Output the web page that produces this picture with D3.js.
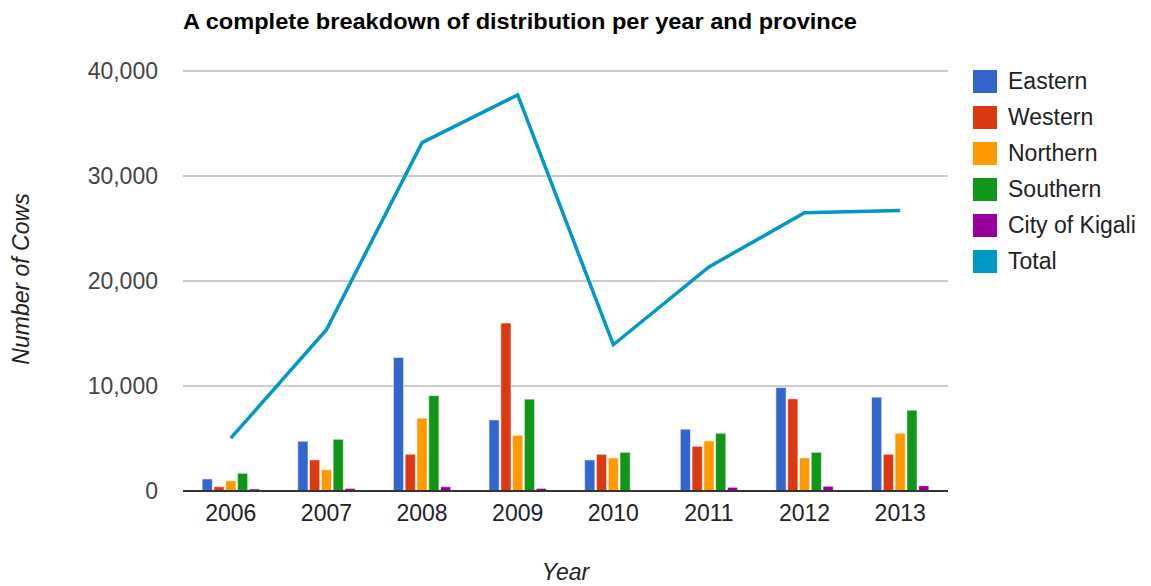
<!DOCTYPE html>
<html>
<head>
<meta charset="utf-8">
<script src="https://cdn.jsdelivr.net/npm/d3@7"></script>
<style>
  body { margin: 0; background: #fff; }
  text { font-family: "Liberation Sans", Arial, sans-serif; }
</style>
</head>
<body>
<div id="chart"></div>
<script>
// data
var years = ["2006", "2007", "2008", "2009", "2010", "2011", "2012", "2013"];
var provinces = ["Eastern", "Western", "Northern", "Southern", "City of Kigali"];
var eastern  = [1150, 4740, 12720, 6770, 2960, 5890, 9860, 8940];
var western  = [410, 2960, 3500, 16000, 3500, 4260, 8780, 3500];
var northern = [980, 2030, 6940, 5310, 3150, 4770, 3150, 5500];
var southern = [1690, 4930, 9090, 8750, 3690, 5500, 3690, 7700];
var kigali   = [200, 250, 410, 250, 0, 350, 450, 500];
var total    = [5030, 15360, 33180, 37720, 13930, 21340, 26500, 26720];
var yTicks = [0, 10000, 20000, 30000, 40000];
var colors = ["#3366cc", "#dc3912", "#ff9900", "#109618", "#990099"];
var totalColor = "#0099c6";

var W = 1151, H = 586;
var margin = {top: 71, right: 203, bottom: 95, left: 183};
var width  = W - margin.left - margin.right;
var height = H - margin.top  - margin.bottom;
var fs = 23;

var series = [eastern, western, northern, southern, kigali];

var svg = d3.select("#chart").append("svg")
    .attr("width", W)
    .attr("height", H);

// Title
svg.append("text")
    .attr("x", margin.left)
    .attr("y", 29)
    .attr("font-size", 22)
    .attr("font-weight", "bold")
    .attr("fill", "#000")
    .attr("textLength", 674)
    .attr("lengthAdjust", "spacingAndGlyphs")
    .text("A complete breakdown of distribution per year and province");

var x = d3.scaleBand().domain(years).range([0, width]).paddingInner(0).paddingOuter(0);
var xInner = d3.scaleBand().domain(d3.range(provinces.length))
    .range([0, x.bandwidth() * 0.6]).paddingInner(0.13);
var y = d3.scaleLinear().domain([0, 40000]).range([height, 0]);

var g = svg.append("g")
    .attr("transform", "translate(" + margin.left + "," + margin.top + ")");

// gridlines
g.selectAll(".grid")
    .data(yTicks.slice(1))
    .enter().append("line")
    .attr("x1", 0)
    .attr("x2", width)
    .attr("y1", function(d) { return y(d); })
    .attr("y2", function(d) { return y(d); })
    .attr("stroke", "#cccccc")
    .attr("stroke-width", 2);

// Y axis labels
var yAxis = g.append("g")
    .attr("class", "axis axis-y")
    .call(d3.axisLeft(y).tickValues(yTicks).tickSize(0).tickPadding(25)
      .tickFormat(d3.format(",")));
yAxis.select(".domain").remove();
yAxis.selectAll("text")
    .attr("font-size", fs)
    .attr("fill", "#444")
    .attr("font-family", "Liberation Sans, Arial, sans-serif");

// X axis labels
var xAxis = g.append("g")
    .attr("class", "axis axis-x")
    .attr("transform", "translate(0," + height + ")")
    .call(d3.axisBottom(x).tickSize(0).tickPadding(14));
xAxis.select(".domain").remove();
xAxis.selectAll("text")
    .attr("font-size", fs)
    .attr("fill", "#222")
    .attr("font-family", "Liberation Sans, Arial, sans-serif");

// bars
var groupOffset = (x.bandwidth() - x.bandwidth() * 0.6) / 2;
series.forEach(function(vals, si) {
  g.selectAll(".bar-" + si)
      .data(vals)
      .enter().append("rect")
      .attr("x", function(d, i) { return x(years[i]) + groupOffset + xInner(si); })
      .attr("y", function(d) { return y(d); })
      .attr("width", xInner.bandwidth())
      .attr("height", function(d) { return height - y(d); })
      .attr("fill", colors[si])
      .attr("stroke", "#fff")
      .attr("stroke-opacity", 0.6)
      .attr("stroke-width", 1);
});

// baseline
g.append("line")
    .attr("x1", 0)
    .attr("x2", width)
    .attr("y1", y(0))
    .attr("y2", y(0))
    .attr("stroke", "#333")
    .attr("stroke-width", 2);

// total line
var line = d3.line()
    .x(function(d, i) { return x(years[i]) + x.bandwidth() / 2; })
    .y(function(d) { return y(d); });
g.append("path")
    .datum(total)
    .attr("d", line)
    .attr("fill", "none")
    .attr("stroke", totalColor)
    .attr("stroke-width", 3.5)
    .attr("stroke-linejoin", "miter");

// axis titles
svg.append("text")
    .attr("x", margin.left + width / 2)
    .attr("y", 580)
    .attr("text-anchor", "middle")
    .attr("font-size", fs)
    .attr("font-style", "italic")
    .attr("fill", "#222")
    .text("Year");

svg.append("text")
    .attr("transform", "translate(29," + 279 + ") rotate(-90)")
    .attr("text-anchor", "middle")
    .attr("font-size", fs)
    .attr("font-style", "italic")
    .attr("fill", "#222")
    .text("Number of Cows");

// legend
var legendNames = provinces.concat(["Total"]);
var legendColors = colors.concat([totalColor]);
var legend = svg.append("g").attr("transform", "translate(973,70)");
var items = legend.selectAll(".item")
    .data(legendNames)
    .enter().append("g")
    .attr("transform", function(d, i) { return "translate(0," + (i * 36) + ")"; });
items.append("rect")
    .attr("width", 24)
    .attr("height", 23)
    .attr("fill", function(d, i) { return legendColors[i]; });
items.append("text")
    .attr("x", 35)
    .attr("y", 19)
    .attr("font-size", fs)
    .attr("fill", "#222")
    .text(function(d) { return d; });
</script>
</body>
</html>
